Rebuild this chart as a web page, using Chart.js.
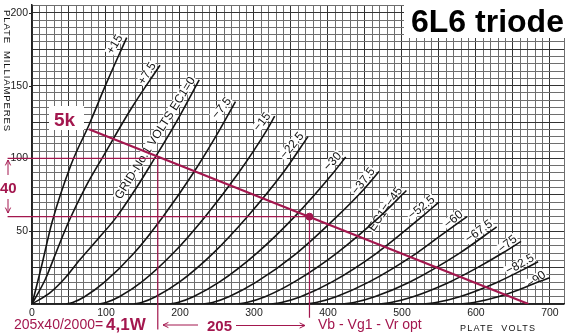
<!DOCTYPE html>
<html>
<head>
<meta charset="utf-8">
<script src="https://cdn.jsdelivr.net/npm/chart.js@4.4.1/dist/chart.umd.min.js"></script>
<style>
  html, body { margin: 0; padding: 0; background: #fff; }
  #wrap { position: relative; width: 569px; height: 335px; }
</style>
</head>
<body>
<div id="wrap"><canvas id="tubeChart" width="569" height="335"></canvas></div>
<script>
// grid-1 bias of each plate curve
const curveLabels = ['+15', '+7.5', 'GRID-No.1 VOLTS EC1=0', '−7.5', '−15', '−22.5', '−30', '−37.5',
  'EC1=−45', '−52.5', '−60', '−67.5', '−75', '−82.5', '−90'];

// plate curves as [plate volts, plate mA]
const curveP15 = [[0, 0], [12, 24], [27, 56], [53, 96], [77, 123], [100, 151], [128, 183]];
const curveP7 = [[0, 0], [18, 17], [33, 36], [50, 57], [72, 80], [98, 103], [135, 135], [173, 164]];
const curve0 = [[0, 0], [25, 8], [45, 18], [64, 30], [88, 44], [113, 59], [140, 79], [162, 97], [195, 125], [226, 154]];
const curveM7 = [[46, 0], [55, 1], [71, 5], [98, 15], [138, 35], [177, 60], [218, 90], [254, 120], [275, 139]];
const curveM15 = [[91, 0], [100, 1], [118, 5], [148, 15], [191, 35], [234, 60], [279, 90], [318, 120], [328, 129]];
const curveM22 = [[138, 0], [148, 1], [167, 5], [199, 15], [245, 35], [291, 60], [339, 90], [373, 115]];
const curveM30 = [[186, 0], [197, 1], [218, 5], [253, 15], [304, 35], [355, 60], [407, 90], [424, 101]];
const curveM37 = [[232, 0], [244, 1], [266, 5], [303, 15], [358, 35], [412, 60], [447, 78], [469, 91]];
const curveM45 = [[278, 0], [290, 1], [315, 5], [354, 15], [412, 35], [470, 60], [506, 78]];
const curveM52 = [[324, 0], [337, 1], [363, 5], [405, 15], [466, 35], [527, 60], [550, 70]];
const curveM60 = [[370, 0], [384, 1], [411, 5], [455, 15], [520, 35], [555, 48], [588, 60]];
const curveM67 = [[420, 0], [435, 1], [463, 5], [510, 15], [578, 35], [628, 53]];
const curveM75 = [[470, 0], [485, 1], [515, 5], [564, 15], [602, 25], [636, 35], [661, 43]];
const curveM82 = [[530, 0], [546, 1], [578, 5], [629, 15], [669, 25], [684, 29]];
const curveM90 = [[580, 0], [597, 1], [630, 5], [659, 10], [683, 15], [700, 18]];

const loadLine = [[77, 120], [671, 0]];
const swingVmin = 170, swingVq = 375;   // volts
const swingImax = 100, swingIq = 60;    // mA

const xTickLabels = [0, 100, 200, 300, 400, 500, 600, 700];
const yTickLabels = [50, 100, 150, 200];

// text angle of each curve label, degrees
const labelAngles = [-58, -58, -58, -50, -52, -50, -47, -52, -55, -38, -39, -35, -39, -29, -35];

const RED = '#a3174e';
const FONT = '"Liberation Sans", Arial, sans-serif';
const curves = [curveP15, curveP7, curve0, curveM7, curveM15, curveM22, curveM30, curveM37,
  curveM45, curveM52, curveM60, curveM67, curveM75, curveM82, curveM90];

const pts = arr => arr.map(p => ({ x: p[0], y: p[1] }));

const redSets = [
  { data: [{ x: swingVq, y: swingIq }], pointRadius: 3.5, backgroundColor: RED, borderColor: RED, showLine: false },
  { data: pts(loadLine), borderColor: RED, borderWidth: 2.2, pointRadius: 0, showLine: true },
  { data: [{ x: -33, y: swingImax }, { x: swingVmin, y: swingImax }, { x: swingVmin, y: -17.5 }],
    borderColor: RED, borderWidth: 1.2, pointRadius: 0, showLine: true, clip: false },
  { data: [{ x: -33, y: swingIq }, { x: swingVq, y: swingIq }, { x: swingVq, y: -9.5 }],
    borderColor: RED, borderWidth: 1.2, pointRadius: 0, showLine: true, clip: false }
];

const curveSets = curves.map(c => ({
  data: pts(c),
  borderColor: '#141414',
  borderWidth: 1.6,
  pointRadius: 0,
  showLine: true,
  cubicInterpolationMode: 'monotone'
}));

function arrow(ctx, x1, y1, x2, y2) {
  const a = Math.atan2(y2 - y1, x2 - x1);
  ctx.beginPath();
  ctx.moveTo(x1, y1);
  ctx.lineTo(x2, y2);
  ctx.moveTo(x2 - 6 * Math.cos(a - 0.45), y2 - 6 * Math.sin(a - 0.45));
  ctx.lineTo(x2, y2);
  ctx.lineTo(x2 - 6 * Math.cos(a + 0.45), y2 - 6 * Math.sin(a + 0.45));
  ctx.stroke();
}

// curve labels sit just above the top end of each curve
const curveLabelPlugin = {
  id: 'curveLabels',
  beforeDatasetsDraw(chart) {
    const { ctx, scales: { x, y } } = chart;
    ctx.save();
    ctx.font = '12px ' + FONT;
    curves.forEach((c, i) => {
      const end = c[c.length - 1];
      const px = x.getPixelForValue(end[0]);
      const py = y.getPixelForValue(end[1]);
      const w = ctx.measureText(curveLabels[i]).width;
      ctx.save();
      ctx.translate(px, py);
      ctx.rotate(labelAngles[i] * Math.PI / 180);
      ctx.fillStyle = '#fff';
      ctx.fillRect(-w - 3, -12, w + 2, 10);
      ctx.fillStyle = '#111';
      ctx.textAlign = 'right';
      ctx.textBaseline = 'alphabetic';
      ctx.fillText(curveLabels[i], -2, -3);
      ctx.restore();
    });
    // short stubs left of the axis at the labelled currents
    ctx.strokeStyle = '#222';
    ctx.lineWidth = 1;
    yTickLabels.forEach(v => {
      const py = Math.round(y.getPixelForValue(v)) + 0.5;
      ctx.beginPath();
      ctx.moveTo(x.left - 3, py);
      ctx.lineTo(x.left, py);
      ctx.stroke();
    });
    ctx.restore();
  }
};

const notesPlugin = {
  id: 'notes',
  afterDraw(chart) {
    const ctx = chart.ctx;
    ctx.save();

    // title block
    ctx.fillStyle = '#fff';
    ctx.fillRect(404, 0, 165, 38);
    ctx.fillStyle = '#000';
    ctx.font = 'bold 32px ' + FONT;
    ctx.textBaseline = 'alphabetic';
    ctx.fillText('6L6 triode', 411, 32);

    // load line name
    ctx.fillStyle = '#fff';
    ctx.fillRect(49, 106, 35, 24);
    ctx.fillStyle = RED;
    ctx.font = 'bold 19px ' + FONT;
    ctx.fillText('5k', 54, 126);

    // axis titles
    ctx.fillStyle = '#111';
    ctx.font = '9.5px ' + FONT;
    ctx.letterSpacing = '0.9px';
    ctx.save();
    ctx.translate(2, 10);
    ctx.rotate(Math.PI / 2);
    ctx.textBaseline = 'bottom';
    ctx.fillText('PLATE  MILLIAMPERES', 0, 0);
    ctx.restore();
    ctx.font = '9px ' + FONT;
    ctx.letterSpacing = '1.2px';
    ctx.fillText('PLATE  VOLTS', 460, 331);
    ctx.letterSpacing = '0px';

    // current swing
    ctx.strokeStyle = RED;
    ctx.fillStyle = RED;
    ctx.lineWidth = 1;
    arrow(ctx, 8, 175, 8, 160);
    arrow(ctx, 8, 199, 8, 213);
    ctx.font = 'bold 15px ' + FONT;
    ctx.fillText('40', 0, 193);

    // power sum and voltage swing
    ctx.font = '14px ' + FONT;
    ctx.fillText('205x40/2000=', 14, 329);
    ctx.font = 'bold 17px ' + FONT;
    ctx.fillText('4,1W', 106, 330);
    ctx.font = 'bold 15px ' + FONT;
    ctx.fillText('205', 207, 331);
    ctx.font = '14px ' + FONT;
    ctx.fillText('Vb - Vg1 - Vr opt', 318, 329);
    arrow(ctx, 198, 325, 163, 325);
    arrow(ctx, 236, 325.5, 305, 325.5);

    ctx.restore();
  }
};

new Chart(document.getElementById('tubeChart'), {
  type: 'scatter',
  data: { datasets: [...redSets, ...curveSets] },
  options: {
    responsive: false,
    animation: false,
    devicePixelRatio: 1,
    layout: { padding: 0 },
    plugins: { legend: { display: false }, tooltip: { enabled: false } },
    scales: {
      x: {
        type: 'linear',
        min: 0,
        max: 719,
        afterFit: s => { s.height = 31; s.paddingRight = 0; s.paddingLeft = 0; },
        ticks: {
          stepSize: 10,
          autoSkip: false,
          maxRotation: 0,
          padding: 3,
          color: '#222',
          font: { size: 10.5, family: FONT },
          callback: v => xTickLabels.includes(v) ? String(v) : ''
        },
        grid: {
          drawTicks: false,
          lineWidth: 1,
          color: c => (c.tick && c.tick.value % 50 === 0) ? '#333' : '#6e6e6e'
        },
        border: { color: '#222', width: 1.5 }
      },
      y: {
        type: 'linear',
        min: 0,
        max: 205.4,
        afterFit: s => { s.width = 32; s.paddingTop = 0; s.paddingBottom = 0; },
        ticks: {
          stepSize: 5,
          autoSkip: false,
          padding: 4,
          color: '#222',
          font: { size: 10.5, family: FONT },
          callback: v => yTickLabels.includes(v) ? String(v) : ''
        },
        grid: {
          drawTicks: false,
          lineWidth: 1,
          color: c => (c.tick && c.tick.value % 25 === 0) ? '#333' : '#6e6e6e'
        },
        border: { color: '#222', width: 1.5 }
      }
    }
  },
  plugins: [curveLabelPlugin, notesPlugin]
});
</script>
</body>
</html>
